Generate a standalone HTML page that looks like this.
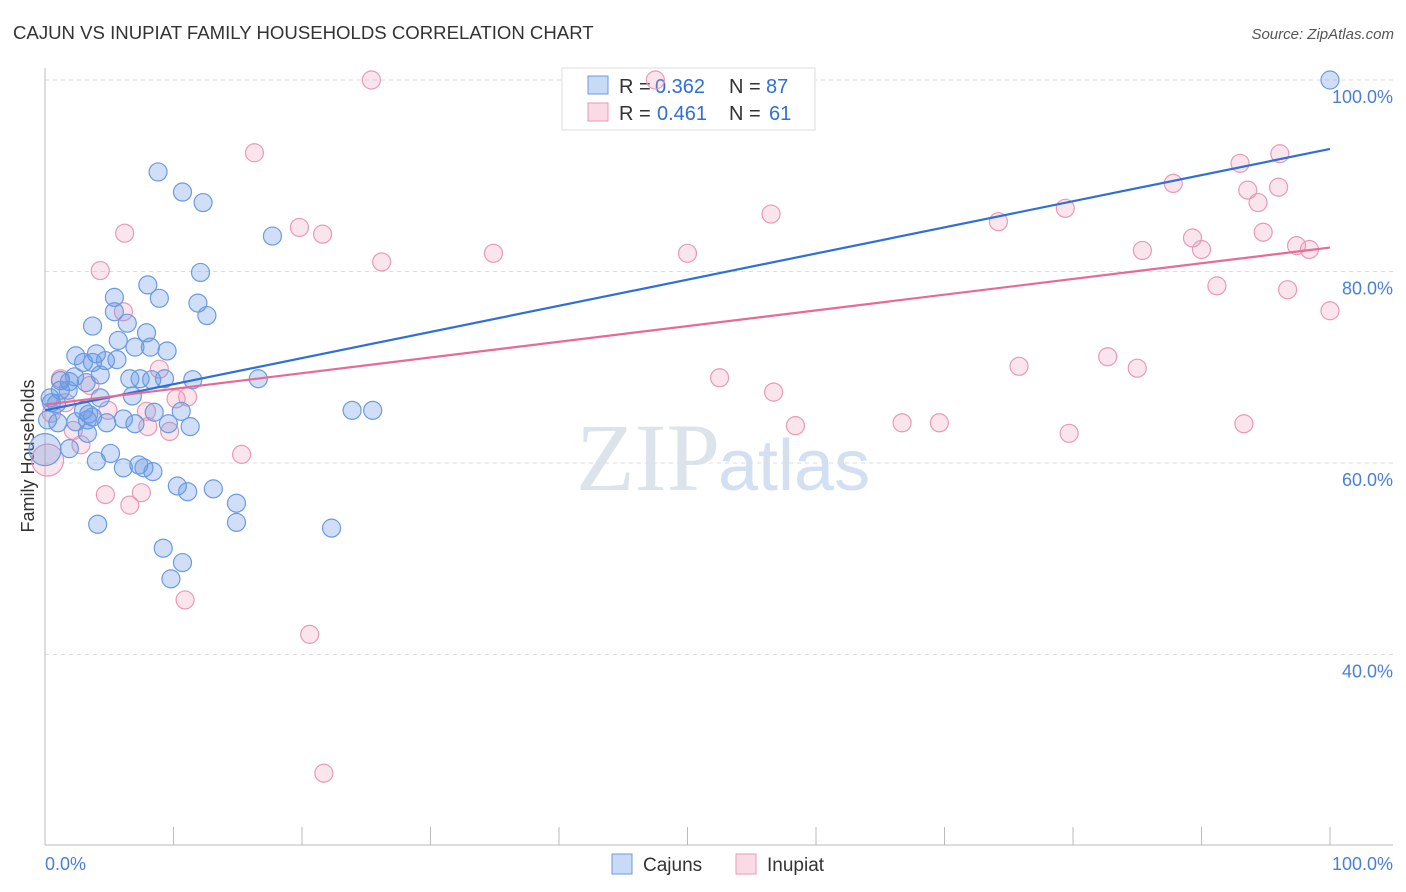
<!DOCTYPE html>
<html><head><meta charset="utf-8">
<style>
body{margin:0;background:#fff;font-family:"Liberation Sans",sans-serif;}
svg{display:block}
</style></head>
<body>
<svg id="chart" width="1406" height="892" xmlns="http://www.w3.org/2000/svg">
<text x="13" y="39" font-size="18.6" fill="#333" font-family="Liberation Sans, sans-serif">CAJUN VS INUPIAT FAMILY HOUSEHOLDS CORRELATION CHART</text>
<text x="1394" y="39" font-size="15" fill="#555" font-style="italic" text-anchor="end">Source: ZipAtlas.com</text>
<text x="720" y="490" font-size="96" fill="#dde3ea" text-anchor="end" font-family="Liberation Serif, serif">ZIP</text>
<text x="718" y="490" font-size="72" fill="#d3e0f2">atlas</text>
<text transform="translate(34,456) rotate(-90)" font-size="18" fill="#333" text-anchor="middle">Family Households</text>
<g id="grid"></g>
<g id="axes"></g>
<g id="pts"></g>
<g id="lines"></g>
<g>
<rect x="562" y="68" width="253" height="62" fill="#fff" stroke="#ddd"/>
<rect x="588" y="76" width="20" height="18" fill="rgba(100,150,230,0.35)" stroke="#6a9be0"/>
<text x="619" y="93" font-size="20" fill="#333">R =</text>
<text x="655" y="93" font-size="20" fill="#2f6fd8">0.362</text>
<text x="729" y="93" font-size="20" fill="#333">N =</text>
<text x="766" y="93" font-size="20" fill="#2f6fd8">87</text>
<rect x="588" y="103" width="20" height="18" fill="rgba(240,150,180,0.35)" stroke="#e89ab5"/>
<text x="619" y="120" font-size="20" fill="#333">R =</text>
<text x="657" y="120" font-size="20" fill="#2f6fd8">0.461</text>
<text x="729" y="120" font-size="20" fill="#333">N =</text>
<text x="769" y="120" font-size="20" fill="#2f6fd8">61</text>
</g>
<g>
<rect x="612" y="854" width="20" height="20" fill="rgba(100,150,230,0.35)" stroke="#6a9be0"/>
<text x="643" y="871" font-size="19" fill="#333">Cajuns</text>
<rect x="736" y="854" width="20" height="20" fill="rgba(240,150,180,0.35)" stroke="#e89ab5"/>
<text x="767" y="871" font-size="19" fill="#333">Inupiat</text>
</g>
<g id="topg"></g>
</svg>
<script>
const blueX=[100,8.8,10.7,12.3,17.7,12.1,8.0,8.9,5.4,11.9,12.6,5.4,6.4,3.7,7.9,5.7,7.0,8.2,9.5,2.4,4.0,5.6,3.0,3.7,4.7,1.2,2.3,1.9,4.3,6.6,7.4,8.3,9.3,11.5,16.6,3.2,1.2,1.8,4.3,6.8,0.5,0.9,3.0,3.4,8.5,10.6,23.9,25.5,0.2,1.0,2.4,3.3,3.7,4.8,6.1,7.0,9.6,11.3,3.3,1.9,5.1,4.0,6.1,7.3,7.7,8.4,10.3,11.1,13.1,14.9,14.9,4.1,22.3,9.2,10.7,9.8,0,0.4];
const blueY=[100,90.4,88.3,87.2,83.7,79.9,78.6,77.2,77.3,76.7,75.4,75.8,74.6,74.3,73.6,72.8,72.1,72.1,71.7,71.2,71.4,70.8,70.5,70.5,70.7,68.6,69.0,68.5,69.2,68.8,68.8,68.7,68.8,68.7,68.8,68.4,67.6,67.6,66.8,67.0,66.3,66.2,65.5,65.1,65.3,65.4,65.5,65.5,64.5,64.2,64.3,64.5,64.8,64.2,64.6,64.1,64.1,63.8,63.1,61.5,61.0,60.2,59.5,59.8,59.5,59.1,57.6,57.0,57.3,55.8,53.8,53.6,53.2,51.1,49.6,47.9,61.4,66.8];
const pinkX=[25.4,47.5,16.3,96.1,93.0,87.8,93.6,96.0,94.4,56.5,74.2,19.8,21.6,6.2,79.4,94.8,89.3,85.4,90.0,97.4,98.4,34.9,50.0,26.2,4.3,91.2,96.7,100,6.1,75.8,82.7,85.0,52.5,56.7,1.2,3.5,8.9,11.1,10.2,1.6,4.9,7.9,0.5,58.4,66.7,69.6,93.3,79.7,8.0,9.7,2.2,2.8,15.3,0.2,4.7,7.5,6.6,10.9,20.6,21.7];
const pinkY=[100,100,92.4,92.3,91.3,89.2,88.5,88.8,87.2,86.0,85.2,84.6,83.9,84.0,86.6,84.1,83.5,82.2,82.3,82.7,82.3,81.9,81.9,81.0,80.1,78.5,78.1,75.9,75.8,70.1,71.1,69.9,68.9,67.4,68.8,68.1,69.8,66.9,66.7,66.3,65.5,65.4,65.2,63.9,64.2,64.2,64.1,63.1,63.8,63.3,63.4,61.9,60.9,60.3,56.7,56.9,55.6,45.7,42.1,27.6];
const blueLine=[65.5,92.8];
const pinkLine=[66.1,82.5];
const yTicks=[40,60,80,100];
const xTicks=[0,10,20,30,40,50,60,70,80,90,100];

const NS="http://www.w3.org/2000/svg";
const sx=v=>45+v*12.85;
const sy=v=>80+(100-v)*9.575;
function mk(tag,attrs,parent){const e=document.createElementNS(NS,tag);for(const k in attrs)e.setAttribute(k,attrs[k]);parent.appendChild(e);return e;}
const gridG=document.getElementById('grid'),axesG=document.getElementById('axes'),ptsG=document.getElementById('pts'),linesG=document.getElementById('lines'),topG=document.getElementById('topg');
yTicks.forEach(t=>{
  const l=mk('line',{x1:45,x2:1393,y1:sy(t),y2:sy(t),stroke:'#ddd','stroke-dasharray':'4,4'},gridG);
  
  
  const tx=mk('text',{x:1393,y:sy(t)+23,'font-size':18,fill:'#4a7fd6','text-anchor':'end'},axesG);
  tx.textContent=t.toFixed(1)+'%';
  
  
});
const ya=mk('line',{x1:45,x2:45,y1:68,y2:845,stroke:'#bbb'},axesG);


const xa=mk('line',{x1:45,x2:1393,y1:845,y2:845,stroke:'#bbb'},axesG);


xTicks.forEach(t=>{
  const l=mk('line',{x1:sx(t),x2:sx(t),y1:827,y2:845,stroke:'#bbb'},axesG);
  
  
});
[[0,'0.0%','start',45],[100,'100.0%','end',1393]].forEach(a=>{
  const tx=mk('text',{x:a[3],y:870,'font-size':18,fill:'#4a7fd6','text-anchor':a[2]},axesG);
  tx.textContent=a[1];
  
  
});
function dots(X,Y,fill,stroke,name){
  X.forEach((x,i)=>{
    const big=(x===0||x===0.2)&&(Y[i]<62&&Y[i]>60);
    const parent=(Y[i]>=99&&x>40&&x<60)?topG:ptsG;
    const c=mk('circle',{cx:sx(x),cy:sy(Y[i]),r:big?16:9,fill:fill,stroke:stroke,'stroke-width':1.2},parent);
    
    
  });
}
dots(pinkX,pinkY,'rgba(240,150,180,0.25)','#e89ab5','inupiat-point');
dots(blueX,blueY,'rgba(100,150,230,0.3)','#6a9be0','cajun-point');
const bl=mk('line',{x1:sx(0),y1:sy(blueLine[0]),x2:sx(100),y2:sy(blueLine[1]),stroke:'#2f6fd8','stroke-width':2.2},linesG);


const pl=mk('line',{x1:sx(0),y1:sy(pinkLine[0]),x2:sx(100),y2:sy(pinkLine[1]),stroke:'#e86a94','stroke-width':2.2},linesG);


</script>
</body></html>
